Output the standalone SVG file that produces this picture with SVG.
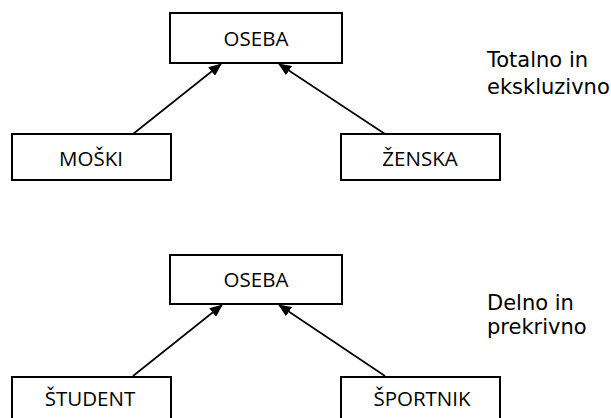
<svg xmlns="http://www.w3.org/2000/svg" width="611" height="418" viewBox="0 0 611 418">
  <style>
    .box { fill: #ffffff; stroke: #000000; stroke-width: 2; }
    .lbl { font-family: "Open Sans", "Noto Sans", sans-serif; font-size: 20.5px; fill: #000000; text-anchor: middle; }
    .note { font-family: "DejaVu Sans", Verdana, sans-serif; font-size: 21px; fill: #000000; }
    .link { stroke: #000000; stroke-width: 1.6; fill: none; marker-end: url(#head); }
  </style>
  <defs>
    <marker id="head" viewBox="0 0 13 11" refX="12" refY="5.5" markerWidth="13" markerHeight="11" markerUnits="userSpaceOnUse" orient="auto">
      <path d="M0,0 L13,5.5 L0,11 Z" fill="#000000"/>
    </marker>
  </defs>
  <rect width="611" height="418" fill="#ffffff"/>

  <!-- connectors: subtype to supertype -->
  <g id="connectors">
    <line class="link" x1="133" y1="134" x2="221" y2="64"/>
    <line class="link" x1="385" y1="134" x2="279" y2="64"/>
    <line class="link" x1="133" y1="376" x2="222" y2="305"/>
    <line class="link" x1="385" y1="376" x2="279" y2="305"/>
  </g>

  <!-- total and exclusive hierarchy -->
  <g id="oseba1">
    <rect class="box" x="170" y="13" width="172" height="50"/>
    <text class="lbl" x="256" y="46">OSEBA</text>
  </g>
  <g id="moski">
    <rect class="box" x="12" y="134" width="159" height="46"/>
    <text class="lbl" x="91" y="166">MOŠKI</text>
  </g>
  <g id="zenska">
    <rect class="box" x="341" y="134" width="159" height="46"/>
    <text class="lbl" x="420" y="166">ŽENSKA</text>
  </g>
  <text class="note" x="487" y="67">Totalno in</text>
  <text class="note" x="487" y="94">ekskluzivno</text>

  <!-- partial and overlapping hierarchy -->
  <g id="oseba2">
    <rect class="box" x="170" y="255" width="172" height="49"/>
    <text class="lbl" x="256" y="287">OSEBA</text>
  </g>
  <g id="student">
    <rect class="box" x="12" y="377" width="159" height="60"/>
    <text class="lbl" x="90" y="406">ŠTUDENT</text>
  </g>
  <g id="sportnik">
    <rect class="box" x="341" y="377" width="159" height="60"/>
    <text class="lbl" x="422" y="406">ŠPORTNIK</text>
  </g>
  <text class="note" x="487" y="310">Delno in</text>
  <text class="note" x="487" y="334">prekrivno</text>
</svg>
